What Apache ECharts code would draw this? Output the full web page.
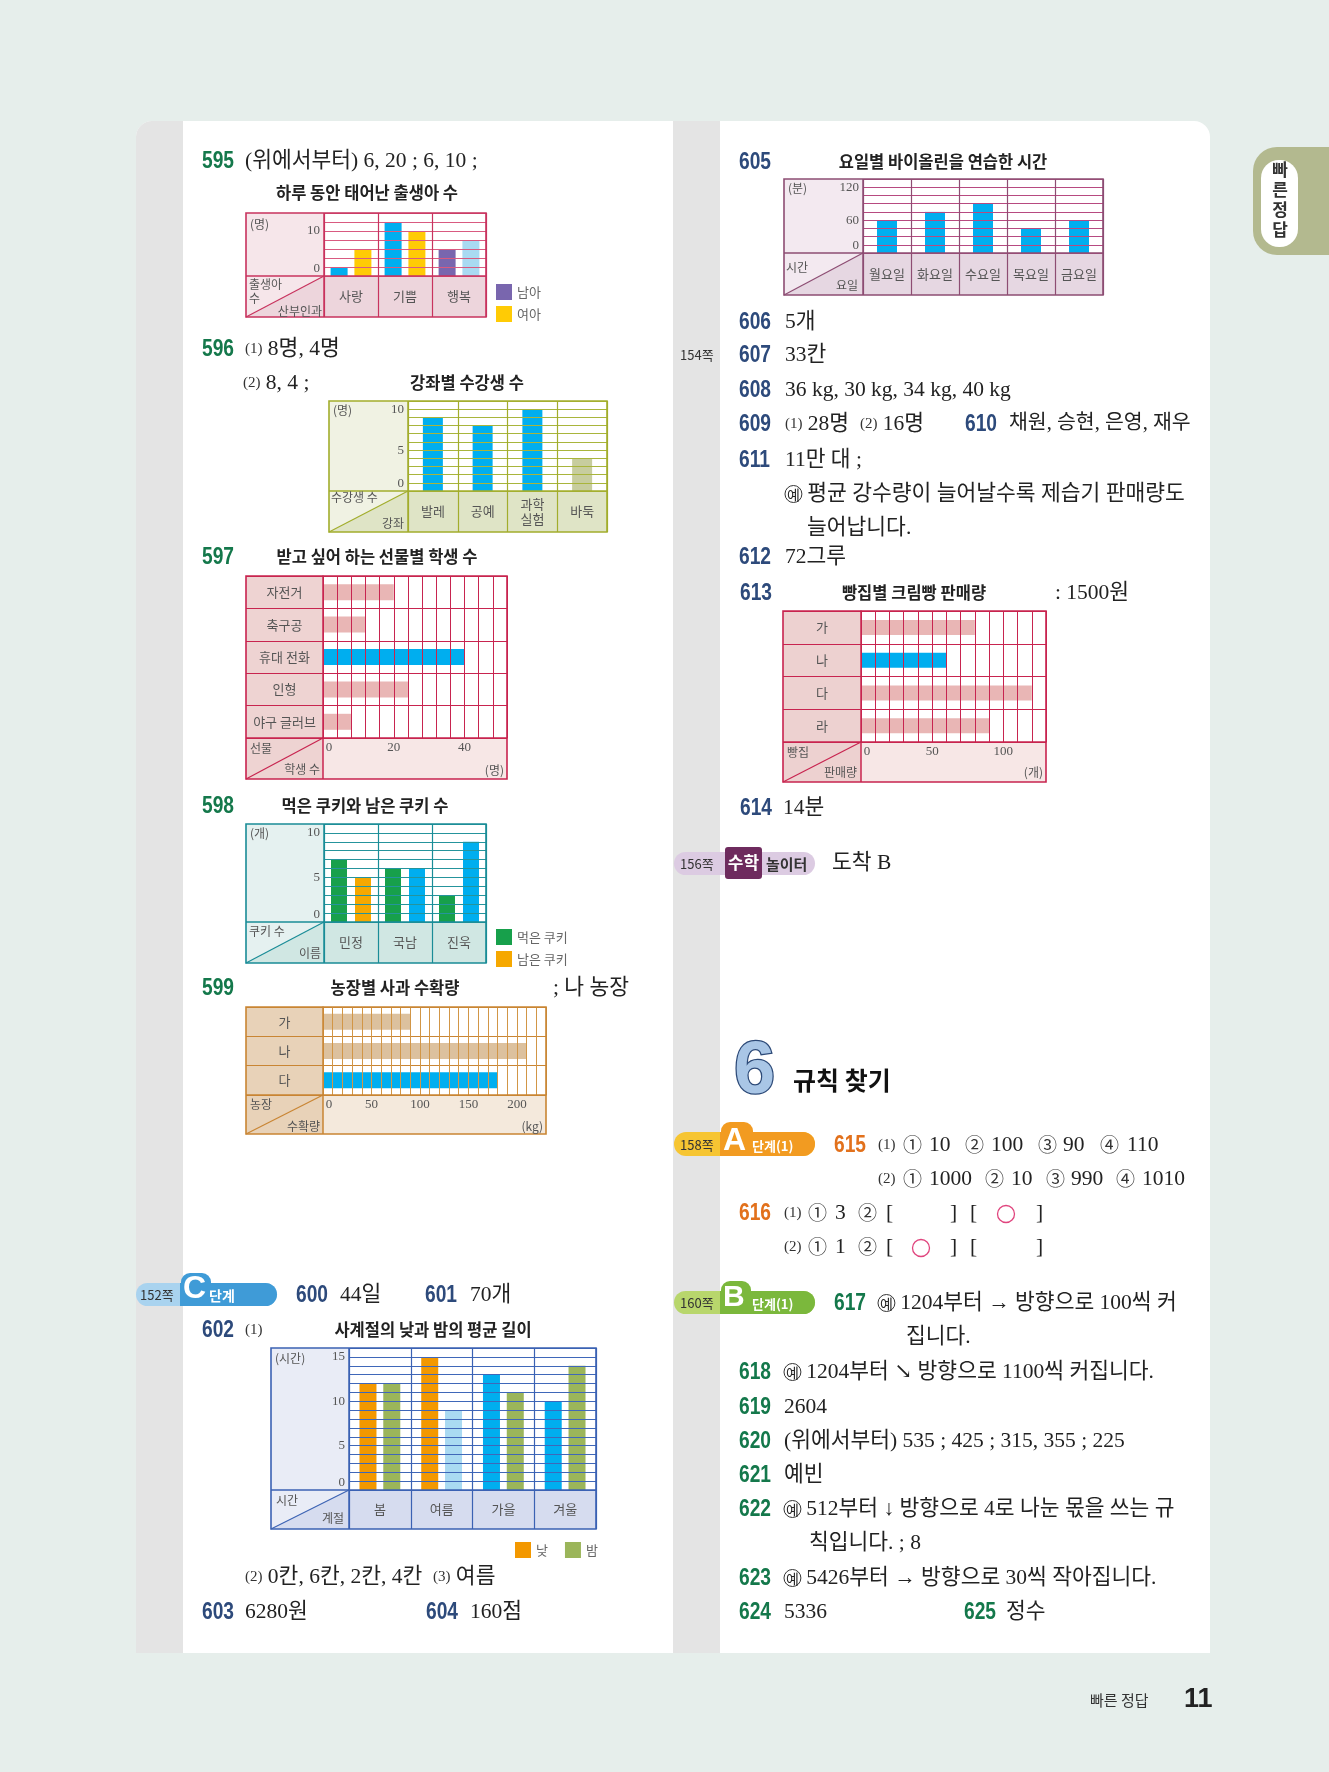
<!DOCTYPE html>
<html><head><meta charset="utf-8">
<script src="https://cdn.jsdelivr.net/npm/echarts@6/dist/echarts.min.js"></script>
<style>html,body{margin:0;padding:0;background:#e6eeeb;}#c{width:1329px;height:1772px;}</style>
</head><body><div id="c"></div>
<script>
// ---------------- data ----------------
const cats595 = ['사랑', '기쁨', '행복'];
const boys595 = [2, 12, 6];
const girls595 = [6, 10, 8];
const ticks595 = [0, 10];

const cats596 = ['발레', '공예', '과학\n실험', '바둑'];
const vals596 = [9, 8, 10, 4];
const ticks596 = [0, 5, 10];

const cats597 = ['자전거', '축구공', '휴대 전화', '인형', '야구 글러브'];
const vals597 = [20, 12, 40, 24, 8];
const ticks597 = [0, 20, 40];

const cats598 = ['민정', '국남', '진욱'];
const eaten598 = [7, 6, 3];
const left598 = [5, 6, 9];
const ticks598 = [0, 5, 10];

const cats599 = ['가', '나', '다'];
const vals599 = [90, 210, 180];
const ticks599 = [0, 50, 100, 150, 200];

const cats602 = ['봄', '여름', '가을', '겨울'];
const day602 = [12, 15, 13, 10];
const night602 = [12, 9, 11, 14];
const ticks602 = [0, 5, 10, 15];

const cats605 = ['월요일', '화요일', '수요일', '목요일', '금요일'];
const vals605 = [60, 75, 90, 45, 60];
const ticks605 = [0, 60, 120];

const cats613 = ['가', '나', '다', '라'];
const vals613 = [80, 60, 120, 90];
const ticks613 = [0, 50, 100];

// ---------------- helpers ----------------
const SERIF = '"Liberation Serif","DejaVu Serif","Noto Sans CJK KR",serif';
const SANS = '"Noto Sans CJK KR","Noto Sans",sans-serif';
const NUMF = '"Liberation Sans","Noto Sans",sans-serif';
const BLUE = '#00aeef', PINK = '#e9b6b5', TAN = '#dcc19e';
const GREEN = '#14784b', NAVY = '#2d4a7b', ORANGE = '#e2711c';

const chart = echarts.init(document.getElementById('c'), null, {renderer: 'canvas', width: 1329, height: 1772});
const opt = {animation: false, grid: [], xAxis: [], yAxis: [], series: [], legend: [], graphic: []};
const G = opt.graphic;

function T(x, y, text, o, el) {
  G.push(Object.assign({type: 'text', x: x, y: y, z: 30, silent: true,
    style: Object.assign({text: text, fill: '#222', fontSize: 21.5, fontFamily: SERIF, align: 'left', verticalAlign: 'middle',
      rich: {
        s: {fontSize: 15, fontFamily: SERIF, fill: '#333'},
        c: {fontSize: 14, fontFamily: SANS, fill: '#222', borderColor: '#333', borderWidth: 1, borderRadius: 10, padding: [2, 2, 1, 2]}
      }}, o || {})}, el || {}));
}
function R(x, y, w, h, fill, z, r, stroke, lw) {
  G.push({type: 'rect', z: z || 0, silent: true, shape: {x: x, y: y, width: w, height: h, r: r || 0},
    style: {fill: fill || 'none', stroke: stroke || null, lineWidth: lw || 1}});
}
function L(x1, y1, x2, y2, c, lw, z) {
  G.push({type: 'line', z: z || 20, silent: true, shape: {x1: x1, y1: y1, x2: x2, y2: y2}, style: {stroke: c, lineWidth: lw || 1}});
}
function N(x, y, t, color) {
  T(x, y, t, {fontFamily: NUMF, fontWeight: 'bold', fontSize: 24, fill: color}, {scaleX: 0.8});
}
function title(x, y, t) {
  T(x, y, t, {fontFamily: SANS, fontWeight: 'bold', fontSize: 16.5, align: 'center', fill: '#222'});
}
function cellTexts(arr) {
  (arr || []).forEach(a => T(a[0], a[1], a[2], Object.assign({fontSize: 12, fill: '#555', fontFamily: SANS}, a[3] || {})));
}
function labelFmt(ticks) {
  return v => ticks.indexOf(v) < 0 ? '' : (v === 0 ? '{z|0}' : String(v));
}

function vChart(c) {
  const gi = opt.grid.length;
  opt.grid.push({left: c.pl, top: c.t, width: c.r - c.pl, height: c.pb - c.t, containLabel: false, outerBoundsMode: 'none'});
  R(c.l, c.t, c.pl - c.l, c.b - c.t, c.hb, 0.5);
  R(c.pl, c.pb, c.r - c.pl, c.b - c.pb, c.rb, 0.5);
  G.push({type: 'polygon', z: 0.6, silent: true, shape: {points: [[c.l, c.b], [c.pl, c.pb], [c.pl, c.b]]}, style: {fill: c.rb}});
  L(c.l, c.b, c.pl, c.pb, c.fc, 1.2);
  L(c.l, c.pb, c.pl, c.pb, c.fc, 1.5);
  L(c.pl, c.t, c.pl, c.b, c.fc, 1.5);
  R(c.l, c.t, c.r - c.l, c.b - c.t, 'none', 20, 0, c.fc, 1.6);
  const rowH = c.b - c.pb;
  opt.xAxis.push({type: 'category', gridIndex: gi, data: c.cats, z: 10,
    axisLine: {show: true, lineStyle: {color: c.fc, width: 1.5}},
    axisTick: {show: true, interval: 0, length: rowH, lineStyle: {color: c.fc, width: 1.2}},
    axisLabel: {interval: 0, margin: rowH / 2, verticalAlign: 'middle', color: '#555', fontSize: 13, fontFamily: SANS, lineHeight: 15},
    splitLine: {show: true, interval: 0, lineStyle: {color: c.fc, width: 1.2}}});
  opt.yAxis.push({type: 'value', gridIndex: gi, min: 0, max: c.max, interval: c.int, z: 10,
    axisLine: {show: false}, axisTick: {show: false},
    splitLine: {show: true, lineStyle: {color: c.lc, width: 1}},
    axisLabel: {margin: 4, color: '#555', fontSize: 13, fontFamily: SERIF, formatter: labelFmt(c.ticks),
      rich: {z: {padding: [0, 0, 14, 0], fontSize: 13, fontFamily: SERIF, color: '#555'}}}});
  c.series.forEach(s => opt.series.push({type: 'bar', name: s.name, xAxisIndex: gi, yAxisIndex: gi, z: 2, silent: true,
    barWidth: c.bw, barGap: c.gap || '30%', itemStyle: {color: s.color},
    data: s.data.map((v, i) => ({value: v, itemStyle: {color: s.colors[i]}}))}));
  cellTexts(c.texts);
}

function hChart(c) {
  const gi = opt.grid.length;
  opt.grid.push({left: c.pl, top: c.t, width: c.r - c.pl, height: c.pb - c.t, containLabel: false, outerBoundsMode: 'none'});
  R(c.l, c.t, c.pl - c.l, c.b - c.t, c.hb, 0.5);
  R(c.pl, c.pb, c.r - c.pl, c.b - c.pb, c.rb, 0.5);
  L(c.l, c.b, c.pl, c.pb, c.fc, 1.2);
  L(c.l, c.pb, c.pl, c.pb, c.fc, 1.5);
  L(c.pl, c.pb, c.pl, c.b, c.fc, 1.5);
  R(c.l, c.t, c.r - c.l, c.b - c.t, 'none', 20, 0, c.fc, 1.6);
  const colW = c.pl - c.l;
  opt.yAxis.push({type: 'category', gridIndex: gi, data: c.cats, inverse: true, z: 10,
    axisLine: {show: true, lineStyle: {color: c.fc, width: 1.5}},
    axisTick: {show: true, interval: 0, length: colW, lineStyle: {color: c.fc, width: 1.2}},
    axisLabel: {interval: 0, margin: colW / 2, align: 'center', color: '#555', fontSize: 13, fontFamily: SANS},
    splitLine: {show: true, interval: 0, lineStyle: {color: c.fc, width: 1.2}}});
  opt.xAxis.push({type: 'value', gridIndex: gi, min: 0, max: c.max, interval: c.int, z: 10, position: 'bottom',
    axisLine: {show: true, lineStyle: {color: c.fc, width: 1.5}}, axisTick: {show: false},
    splitLine: {show: true, lineStyle: {color: c.lc, width: 1}},
    axisLabel: {margin: 3, verticalAlign: 'top', color: '#555', fontSize: 13, fontFamily: SERIF, formatter: labelFmt(c.ticks),
      rich: {z: {padding: [0, 0, 0, 12], fontSize: 13, fontFamily: SERIF, color: '#555'}}}});
  opt.series.push({type: 'bar', name: c.name, xAxisIndex: gi, yAxisIndex: gi, z: 2, silent: true, barWidth: c.bw,
    itemStyle: {color: c.colors[0]},
    data: c.data.map((v, i) => ({value: v, itemStyle: {color: c.colors[i]}}))});
  cellTexts(c.texts);
}

// ---------------- page ----------------
R(136, 121, 1074, 1532, '#ffffff', 0, [16, 16, 0, 0]);
R(136, 121, 47, 1532, '#e4e4e4', 0.1, [16, 0, 0, 0]);
R(673, 121, 47, 1532, '#e4e4e4', 0.1);

// side tab
R(1253, 147, 90, 108, '#b3b98f', 0.2, [24, 0, 0, 24]);
R(1261, 160, 37, 87, '#ffffff', 0.3, 18);
['빠', '른', '정', '답'].forEach((ch, i) => T(1280, 170 + i * 20, ch, {fontFamily: SANS, fontWeight: 'bold', fontSize: 17, align: 'center', fill: '#333'}));

// footer
T(1090, 1700, '빠른 정답', {fontFamily: SANS, fontSize: 15, fill: '#333'});
T(1184, 1700, '11', {fontFamily: '"Liberation Sans"', fontWeight: 'bold', fontSize: 27, fill: '#222'});

// ---------------- left column ----------------
N(202, 161, '595', GREEN);
T(245, 161, '(위에서부터) 6, 20 ; 6, 10 ;');
title(367, 193, '하루 동안 태어난 출생아 수');
vChart({l: 246, t: 213, r: 486, b: 317, pl: 324, pb: 276, max: 14, int: 2, ticks: ticks595, cats: cats595,
  fc: '#c8335e', lc: '#d95a80', hb: '#f6e6ea', rb: '#edd5dc', bw: 17, gap: '40%',
  series: [{name: '남아', data: boys595, color: '#7966ae', colors: [BLUE, BLUE, '#7966ae']},
           {name: '여아', data: girls595, color: '#ffcb05', colors: ['#ffcb05', '#ffcb05', '#a9daf2']}],
  texts: [[250, 224, '(명)'], [249, 284, '출생아'], [249, 298, '수'], [322, 311, '산부인과', {align: 'right'}]]});
opt.legend.push({data: ['남아', '여아'], left: 491, top: 279, orient: 'vertical', itemWidth: 16, itemHeight: 16, itemGap: 6,
  icon: 'rect', selectedMode: false, textStyle: {color: '#666', fontSize: 13, fontFamily: SANS}});

N(202, 349, '596', GREEN);
T(245, 349, '{s|(1)} 8명, 4명');
T(243, 383, '{s|(2)} 8, 4 ;');
title(467, 383, '강좌별 수강생 수');
vChart({l: 329, t: 401, r: 607, b: 532, pl: 408, pb: 491, max: 11, int: 1, ticks: ticks596, cats: cats596,
  fc: '#a2ad2c', lc: '#a9b53b', hb: '#f0f2e3', rb: '#dfe4c6', bw: 20,
  series: [{name: '수강생 수', data: vals596, color: BLUE, colors: [BLUE, BLUE, BLUE, '#c7cd9e']}],
  texts: [[333, 410, '(명)'], [331, 497, '수강생 수'], [404, 523, '강좌', {align: 'right'}]]});

N(202, 557, '597', GREEN);
title(377, 557, '받고 싶어 하는 선물별 학생 수');
hChart({l: 246, t: 576, r: 507, b: 779, pl: 323, pb: 738, max: 52, int: 4, ticks: ticks597, cats: cats597,
  fc: '#c8244f', lc: '#c8244f', hb: '#eed3d2', rb: '#f7e7e6', bw: 16, name: '학생 수', data: vals597,
  colors: [PINK, PINK, BLUE, PINK, PINK],
  texts: [[250, 748, '선물'], [320, 769, '학생 수', {align: 'right'}], [504, 770, '(명)', {align: 'right'}]]});

N(202, 806, '598', GREEN);
title(365, 806, '먹은 쿠키와 남은 쿠키 수');
vChart({l: 246, t: 824, r: 486, b: 963, pl: 324, pb: 922, max: 11, int: 1, ticks: ticks598, cats: cats598,
  fc: '#1a8c97', lc: '#25949c', hb: '#e5f1f0', rb: '#d0e7e3', bw: 16, gap: '50%',
  series: [{name: '먹은 쿠키', data: eaten598, color: '#17a04b', colors: ['#17a04b', '#17a04b', '#17a04b']},
           {name: '남은 쿠키', data: left598, color: '#f6a800', colors: ['#f6a800', BLUE, BLUE]}],
  texts: [[250, 833, '(개)'], [249, 931, '쿠키 수'], [321, 953, '이름', {align: 'right'}]]});
opt.legend.push({data: ['먹은 쿠키', '남은 쿠키'], left: 491, top: 924, orient: 'vertical', itemWidth: 16, itemHeight: 16, itemGap: 6,
  icon: 'rect', selectedMode: false, textStyle: {color: '#666', fontSize: 13, fontFamily: SANS}});

N(202, 988, '599', GREEN);
title(395, 988, '농장별 사과 수확량');
T(553, 988, '; 나 농장');
hChart({l: 246, t: 1007, r: 546, b: 1134, pl: 323, pb: 1095, max: 230, int: 10, ticks: ticks599, cats: cats599,
  fc: '#c98533', lc: '#d29646', hb: '#e8d2b8', rb: '#f4e9dc', bw: 16, name: '수확량', data: vals599,
  colors: [TAN, TAN, BLUE],
  texts: [[250, 1104, '농장'], [320, 1126, '수확량', {align: 'right'}], [543, 1126, '(kg)', {align: 'right'}]]});

// C 단계 badge
R(136, 1283, 141, 23, '#a9d3ef', 5, 11.5);
R(180, 1283, 97, 23, '#3f9bd7', 6, [0, 11.5, 11.5, 0]);
R(181, 1273, 30, 33, '#3f9bd7', 6, [9, 9, 0, 0]);
T(140, 1295, '152쪽', {fontFamily: SANS, fontSize: 13, fill: '#333'});
T(183, 1289, 'C', {fontFamily: '"Liberation Sans"', fontWeight: 'bold', fontSize: 32, fill: '#fff'});
T(209, 1296, '단계', {fontFamily: SANS, fontWeight: 'bold', fontSize: 14, fill: '#fff'});
N(296, 1295, '600', NAVY);
T(340, 1295, '44일');
N(425, 1295, '601', NAVY);
T(470, 1295, '70개');

N(202, 1330, '602', NAVY);
T(245, 1330, '{s|(1)}');
title(433, 1330, '사계절의 낮과 밤의 평균 길이');
vChart({l: 271, t: 1348, r: 596, b: 1529, pl: 349, pb: 1490, max: 16, int: 1, ticks: ticks602, cats: cats602,
  fc: '#3b62b3', lc: '#3f67b9', hb: '#e9ecf6', rb: '#d6dcef', bw: 17, gap: '40%',
  series: [{name: '낮', data: day602, color: '#f39800', colors: ['#f39800', '#f39800', BLUE, BLUE]},
           {name: '밤', data: night602, color: '#9bb55a', colors: ['#9bb55a', '#a9daf2', '#9bb55a', '#9bb55a']}],
  texts: [[275, 1358, '(시간)'], [276, 1500, '시간'], [344, 1518, '계절', {align: 'right'}]]});
opt.legend.push({data: ['낮', '밤'], left: 510, top: 1537, orient: 'horizontal', itemWidth: 16, itemHeight: 16, itemGap: 17,
  icon: 'rect', selectedMode: false, textStyle: {color: '#666', fontSize: 13, fontFamily: SANS}});
T(245, 1577, '{s|(2)} 0칸, 6칸, 2칸, 4칸  {s|(3)} 여름');
N(202, 1612, '603', NAVY);
T(245, 1612, '6280원');
N(426, 1612, '604', NAVY);
T(470, 1612, '160점');

// ---------------- right column ----------------
N(739, 162, '605', NAVY);
title(943, 162, '요일별 바이올린을 연습한 시간');
vChart({l: 784, t: 179, r: 1103, b: 295, pl: 863, pb: 253, max: 135, int: 15, ticks: ticks605, cats: cats605,
  fc: '#8d4d73', lc: '#b74a80', hb: '#f3e9f0', rb: '#e6d7e2', bw: 20,
  series: [{name: '연습한 시간', data: vals605, color: BLUE, colors: [BLUE, BLUE, BLUE, BLUE, BLUE]}],
  texts: [[788, 188, '(분)'], [786, 267, '시간'], [858, 285, '요일', {align: 'right'}]]});

N(739, 322, '606', NAVY); T(785, 322, '5개');
T(680, 355, '154쪽', {fontFamily: SANS, fontSize: 13, fill: '#333'});
N(739, 355, '607', NAVY); T(785, 355, '33칸');
N(739, 390, '608', NAVY); T(785, 390, '36 kg, 30 kg, 34 kg, 40 kg');
N(739, 424, '609', NAVY); T(785, 424, '{s|(1)} 28명  {s|(2)} 16명');
N(965, 424, '610', NAVY); T(1009, 424, '채원, 승현, 은영, 재우', {fontSize: 20.5});
N(739, 460, '611', NAVY); T(785, 460, '11만 대 ;');
T(785, 494, '{c|예} 평균 강수량이 늘어날수록 제습기 판매량도');
T(807, 528, '늘어납니다.');
N(739, 557, '612', NAVY); T(785, 557, '72그루');

N(740, 593, '613', NAVY);
title(914, 593, '빵집별 크림빵 판매량');
T(1055, 593, ': 1500원');
hChart({l: 783, t: 611, r: 1046, b: 782, pl: 861, pb: 742, max: 130, int: 10, ticks: ticks613, cats: cats613,
  fc: '#c8244f', lc: '#c8244f', hb: '#edd1d0', rb: '#f7e7e6', bw: 15, name: '판매량', data: vals613,
  colors: [PINK, BLUE, PINK, PINK],
  texts: [[787, 752, '빵집'], [857, 772, '판매량', {align: 'right'}], [1043, 772, '(개)', {align: 'right'}]]});
N(740, 808, '614', NAVY); T(783, 808, '14분');

// 수학 놀이터 badge
R(674, 852, 141, 23, '#dccbe2', 5, 11.5);
R(725, 847, 37, 32, '#6e2b5e', 6, 3);
T(743.5, 863, '수학', {fontFamily: SANS, fontWeight: 'bold', fontSize: 17, fill: '#fff', align: 'center'});
T(680, 864, '156쪽', {fontFamily: SANS, fontSize: 13, fill: '#333'});
T(766, 864, '놀이터', {fontFamily: SANS, fontWeight: 'bold', fontSize: 15, fill: '#333'});
T(832, 863, '도착 B');

// chapter 6
T(734, 1073, '6', {fontFamily: '"Liberation Sans"', fontWeight: 'bold', fontSize: 74, fill: '#a9c6e6', stroke: '#2d4a78', lineWidth: 2.5});
T(793, 1080, '규칙 찾기', {fontFamily: SANS, fontWeight: 'bold', fontSize: 25, fill: '#111'});

// A 단계 badge
R(674, 1132, 141, 24, '#f6c532', 5, 12);
R(720, 1132, 95, 24, '#f29b21', 6, [0, 12, 12, 0]);
R(721, 1122, 32, 34, '#f29b21', 6, [9, 9, 0, 0]);
T(680, 1145, '158쪽', {fontFamily: SANS, fontSize: 13, fill: '#333'});
T(723, 1141, 'A', {fontFamily: '"Liberation Sans"', fontWeight: 'bold', fontSize: 32, fill: '#fff'});
T(752, 1146, '단계(1)', {fontFamily: SANS, fontWeight: 'bold', fontSize: 13, fill: '#fff'});
N(834, 1145, '615', ORANGE);
const CIRC = {fontFamily: SANS, fontSize: 19, fill: '#333'};
[[878, '{s|(1)}'], [903, '①', CIRC], [929, '10'], [965, '②', CIRC], [991, '100'], [1038, '③', CIRC], [1063, '90'], [1100, '④', CIRC], [1127, '110']]
  .forEach(p => T(p[0], 1145, p[1], p[2]));
[[878, '{s|(2)}'], [903, '①', CIRC], [929, '1000'], [985, '②', CIRC], [1011, '10'], [1046, '③', CIRC], [1071, '990'], [1116, '④', CIRC], [1142, '1010']]
  .forEach(p => T(p[0], 1179, p[1], p[2]));
N(739, 1213, '616', ORANGE);
[[784, '{s|(1)}'], [808, '①', CIRC], [835, '3'], [858, '②', CIRC], [886, '['], [950, ']'], [970, '['], [1036, ']']]
  .forEach(p => T(p[0], 1213, p[1], p[2]));
[[784, '{s|(2)}'], [808, '①', CIRC], [835, '1'], [858, '②', CIRC], [886, '['], [950, ']'], [970, '['], [1036, ']']]
  .forEach(p => T(p[0], 1247, p[1], p[2]));
G.push({type: 'circle', z: 30, silent: true, shape: {cx: 1006, cy: 1214, r: 8.5}, style: {fill: 'none', stroke: '#e0457e', lineWidth: 1.3}});
G.push({type: 'circle', z: 30, silent: true, shape: {cx: 921, cy: 1248, r: 8.5}, style: {fill: 'none', stroke: '#e0457e', lineWidth: 1.3}});

// B 단계 badge
R(674, 1291, 141, 23, '#b8d66c', 5, 11.5);
R(720, 1291, 95, 23, '#7bb83c', 6, [0, 11.5, 11.5, 0]);
R(721, 1281, 30, 33, '#7bb83c', 6, [9, 9, 0, 0]);
T(680, 1303, '160쪽', {fontFamily: SANS, fontSize: 13, fill: '#333'});
T(723, 1298, 'B', {fontFamily: '"Liberation Sans"', fontWeight: 'bold', fontSize: 30, fill: '#fff'});
T(752, 1304, '단계(1)', {fontFamily: SANS, fontWeight: 'bold', fontSize: 13, fill: '#fff'});
N(834, 1303, '617', GREEN); T(878, 1303, '{c|예} 1204부터 → 방향으로 100씩 커');
T(906, 1337, '집니다.');
N(739, 1372, '618', GREEN); T(784, 1372, '{c|예} 1204부터 ↘ 방향으로 1100씩 커집니다.');
N(739, 1407, '619', GREEN); T(784, 1407, '2604');
N(739, 1441, '620', GREEN); T(784, 1441, '(위에서부터) 535 ; 425 ; 315, 355 ; 225');
N(739, 1475, '621', GREEN); T(784, 1475, '예빈');
N(739, 1509, '622', GREEN); T(784, 1509, '{c|예} 512부터 ↓ 방향으로 4로 나눈 몫을 쓰는 규');
T(809, 1543, '칙입니다. ; 8');
N(739, 1578, '623', GREEN); T(784, 1578, '{c|예} 5426부터 → 방향으로 30씩 작아집니다.');
N(739, 1612, '624', GREEN); T(784, 1612, '5336');
N(964, 1612, '625', GREEN); T(1006, 1612, '정수');

chart.setOption(opt);
</script></body></html>
